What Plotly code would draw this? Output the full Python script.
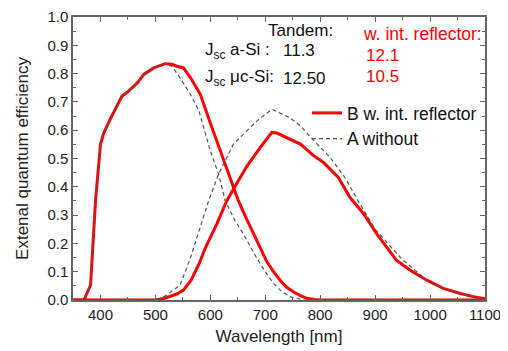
import plotly.graph_objects as go

# ---- data ----
wl_b_asi = [350, 370, 382, 391, 400, 406, 418, 426, 439, 451, 467, 479, 497, 518, 530, 539, 551, 564, 582,
            600, 618, 630, 642, 651, 665, 679, 691, 703, 715, 727, 739, 751, 764, 776, 790, 800, 1100]
eqe_b_asi = [0, 0, 0.053, 0.35, 0.55, 0.59, 0.64, 0.67, 0.72, 0.738, 0.767, 0.797, 0.82, 0.835, 0.833, 0.826,
             0.82, 0.785, 0.726, 0.625, 0.527, 0.465, 0.404, 0.351, 0.29, 0.234, 0.18, 0.135, 0.1, 0.07, 0.045,
             0.029, 0.015, 0.006, 0.002, 0, 0]

wl_b_uc = [350, 500, 515, 527, 540, 551, 565, 580, 590, 612, 630, 644, 667, 691, 712, 721, 739, 764, 788, 806,
           833, 854, 879, 903, 921, 939, 964, 994, 1024, 1055, 1079, 1100]
eqe_b_uc = [0, 0, 0.005, 0.012, 0.022, 0.035, 0.07, 0.13, 0.18, 0.27, 0.351, 0.398, 0.474, 0.539, 0.592, 0.59,
            0.574, 0.551, 0.51, 0.486, 0.433, 0.363, 0.305, 0.234, 0.187, 0.14, 0.105, 0.07, 0.041, 0.023,
            0.012, 0.004]

wl_a_asi = [350, 370, 382, 391, 400, 406, 418, 426, 439, 451, 467, 479, 497, 518, 530, 545, 564, 579, 600,
            615, 627, 645, 660, 685, 700, 715, 730, 745, 769, 1100]
eqe_a_asi = [0, 0, 0.053, 0.35, 0.55, 0.59, 0.64, 0.67, 0.72, 0.738, 0.767, 0.797, 0.82, 0.833, 0.826, 0.785,
             0.726, 0.67, 0.527, 0.445, 0.351, 0.28, 0.234, 0.146, 0.1, 0.059, 0.03, 0.012, 0, 0]

wl_a_uc = [350, 495, 510, 521, 545, 564, 582, 597, 615, 642, 685, 712, 745, 764, 790, 818, 845, 867, 900,
           948, 994, 1024, 1055, 1079, 1100]
eqe_a_uc = [0, 0, 0.006, 0.018, 0.053, 0.15, 0.26, 0.351, 0.445, 0.551, 0.633, 0.674, 0.644, 0.615, 0.56,
            0.504, 0.433, 0.357, 0.25, 0.146, 0.07, 0.041, 0.023, 0.012, 0.004]

name_b = "B w. int. reflector"
name_a = "A without"

RED = "#ff0000"
GRAY = "#555555"
AX = "#666666"
FONT = "Liberation Sans, Arial, sans-serif"

fig = go.Figure()
fig.add_trace(go.Scatter(x=wl_b_asi, y=eqe_b_asi, mode="lines", name=name_b, legendgroup="b",
                         line=dict(color=RED, width=3)))
fig.add_trace(go.Scatter(x=wl_b_uc, y=eqe_b_uc, mode="lines", name=name_b, legendgroup="b", showlegend=False,
                         line=dict(color=RED, width=3)))
fig.add_trace(go.Scatter(x=wl_a_asi, y=eqe_a_asi, mode="lines", name=name_a, legendgroup="a",
                         line=dict(color=GRAY, width=1.2, dash="4px,3px")))
fig.add_trace(go.Scatter(x=wl_a_uc, y=eqe_a_uc, mode="lines", name=name_a, legendgroup="a", showlegend=False,
                         line=dict(color=GRAY, width=1.2, dash="4px,3px")))

# page has an 8px body margin, so the figure is drawn 8px right/down of the window corner
OFF = 8
W, H = 500, 343
L, R, T, B = 65, 23, 9, 51
pw, ph = W - L - R, H - T - B


def px(xp):
    return (xp - OFF - L) / pw


def py(yp):
    return (H - B - (yp - OFF)) / ph


def note(text, x, y, color="#111111", size=17):
    fig.add_annotation(text=text, x=px(x), y=py(y), xref="paper", yref="paper", xanchor="left",
                       yanchor="middle", showarrow=False, font=dict(family=FONT, size=size, color=color))


note("Tandem:", 266, 30)
note("J<sub>sc</sub> a-Si :", 203, 51)
note("11.3", 281, 51)
note("J<sub>sc</sub> \u03bcc-Si:", 203, 78)
note("12.50", 281, 78)
note("w. int. reflector:", 361, 34, color=RED, size=17.5)
note("12.1", 364, 56, color=RED)
note("10.5", 364, 77, color=RED)

axis_common = dict(showline=True, linecolor=AX, linewidth=1.5, mirror="ticks", ticks="inside",
                   ticklen=5, tickwidth=1.2, tickcolor=AX, showgrid=False, zeroline=False, automargin=False,
                   ticklabeloverflow="allow",
                   tickfont=dict(family=FONT, size=15, color="#222222"),
                   minor=dict(ticks="inside", ticklen=3, tickwidth=1, tickcolor=AX, showgrid=False))

fig.update_xaxes(range=[350, 1100], tick0=400, dtick=100, title=dict(text="Wavelength [nm]", standoff=8,
                 font=dict(family=FONT, size=17, color="#222222")), **axis_common)
fig.update_xaxes(minor=dict(dtick=50, tick0=350))
fig.update_yaxes(range=[0, 1.0], tick0=0, dtick=0.1, tickformat=".1f",
                 title=dict(text="Extenal quantum efficiency", standoff=14,
                            font=dict(family=FONT, size=17, color="#222222")), **axis_common)
fig.update_yaxes(minor=dict(dtick=0.05))

fig.update_layout(width=W, height=H, margin=dict(l=L, r=R, t=T, b=B, autoexpand=False), plot_bgcolor="white",
                  paper_bgcolor="white",
                  legend=dict(x=px(307), y=py(95), xanchor="left", yanchor="top", bgcolor="rgba(0,0,0,0)",
                              font=dict(family=FONT, size=17.5, color="#111111"), tracegroupgap=0,
                              itemclick=False),
                  showlegend=True)

fig.write_html("out.html")
